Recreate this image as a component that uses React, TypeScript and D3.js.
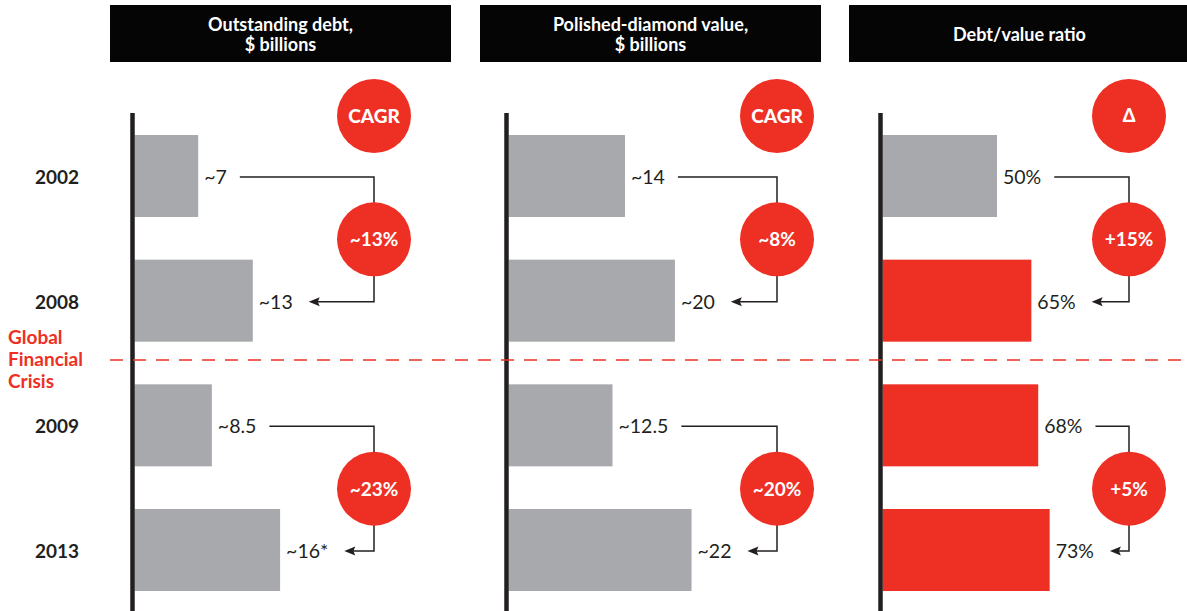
import React, { useEffect, useRef } from "react";
import * as d3 from "d3";

const years = ["2002", "2008", "2009", "2013"];
const debtValues = [7, 13, 8.5, 16];
const debtLabels = ["~7", "~13", "~8.5", "~16*"];
const diamondValues = [14, 20, 12.5, 22];
const diamondLabels = ["~14", "~20", "~12.5", "~22"];
const ratioValues = [50, 65, 68, 73];
const ratioLabels = ["50%", "65%", "68%", "73%"];
const debtGrowth = ["~13%", "~23%"];
const diamondGrowth = ["~8%", "~20%"];
const ratioGrowth = ["+15%", "+5%"];
const ratioHighlight = [false, true, true, true];
const panelTitles = [["Outstanding debt,", "$ billions"], ["Polished-diamond value,", "$ billions"], ["Debt/value ratio"]];
const badgeLabels = ["CAGR", "CAGR", "Δ"];
const crisisLabel = ["Global", "Financial", "Crisis"];

const W = 1187;
const H = 611;
const RED = "#ee2f24";
const GRAY = "#a7a9ac";
const DARK = "#231f20";
const FONT = "Lato, 'Open Sans', sans-serif";

export default function App() {
  const ref = useRef<SVGSVGElement | null>(null);

  useEffect(() => {
    document.body.style.margin = "0";
    const svg = d3.select(ref.current);
    svg.selectAll("*").remove();

    const y = d3.scalePoint<string>().domain(years).range([176, 550]);
    const barH = 82;

    const panels = [
      { values: debtValues, labels: debtLabels, growth: debtGrowth, boxX: 110, boxW: 341, axisX: 132.5, circleX: 374, k: 9.1, colors: years.map(() => GRAY) },
      { values: diamondValues, labels: diamondLabels, growth: diamondGrowth, boxX: 480, boxW: 341, axisX: 506.5, circleX: 777, k: 8.32, colors: years.map(() => GRAY) },
      { values: ratioValues, labels: ratioLabels, growth: ratioGrowth, boxX: 849, boxW: 341, axisX: 880.5, circleX: 1129, k: 2.29, colors: ratioHighlight.map((h) => (h ? RED : GRAY)) },
    ];

    // year labels
    svg.append("g").selectAll("text").data(years).join("text")
      .attr("x", 57).attr("y", (d) => (y(d) as number) + 8)
      .attr("text-anchor", "middle")
      .attr("font-family", FONT).attr("font-weight", 700).attr("font-size", 19)
      .attr("fill", DARK).text((d) => d);

    // crisis label
    svg.append("g").selectAll("text").data(crisisLabel).join("text")
      .attr("x", 8).attr("y", (_d, i) => 344 + i * 22)
      .attr("font-family", FONT).attr("font-weight", 700).attr("font-size", 19)
      .attr("fill", RED).text((d) => d);

    const defs = svg.append("defs");
    defs.append("clipPath").attr("id", "clipAll").append("rect").attr("width", W).attr("height", H);

    panels.forEach((p, pi) => {
      const g = svg.append("g").attr("clip-path", "url(#clipAll)");
      const x = d3.scaleLinear().domain([0, 1]).range([0, p.k]);
      const x0 = p.axisX + 2;

      // header
      g.append("rect").attr("x", p.boxX).attr("y", 5).attr("width", p.boxW).attr("height", 57).attr("fill", "#050505");
      const lines = panelTitles[pi];
      const cx = p.boxX + p.boxW / 2;
      lines.forEach((t, li) => {
        g.append("text")
          .attr("x", cx)
          .attr("y", lines.length === 1 ? 41 : 31 + li * 20)
          .attr("text-anchor", "middle")
          .attr("font-family", FONT).attr("font-weight", 700).attr("font-size", 18)
          .attr("fill", "#fff").text(t);
      });

      // bars
      g.selectAll("rect.bar").data(years).join("rect").attr("class", "bar")
        .attr("x", x0).attr("y", (d) => (y(d) as number) - barH / 2)
        .attr("width", (_d, i) => x(p.values[i]))
        .attr("height", barH)
        .attr("fill", (_d, i) => p.colors[i]);

      // axis line
      g.append("line").attr("x1", p.axisX).attr("x2", p.axisX).attr("y1", 113).attr("y2", H)
        .attr("stroke", DARK).attr("stroke-width", 4.5);

      // value labels
      const labelEnds: number[] = [];
      years.forEach((d, i) => {
        const t = g.append("text")
          .attr("x", x0 + x(p.values[i]) + 6)
          .attr("y", (y(d) as number) + 8)
          .attr("font-family", FONT).attr("font-weight", 400).attr("font-size", 19.5)
          .attr("fill", DARK).text(p.labels[i]);
        const node = t.node() as SVGTextElement;
        const len = node.getComputedTextLength();
        labelEnds.push(x0 + x(p.values[i]) + 6 + len);
      });

      // connectors + growth circles
      const r = 37;
      [0, 1].forEach((k) => {
        const a = years[k * 2];
        const b = years[k * 2 + 1];
        const ya = (y(a) as number) + 1;
        const yb = (y(b) as number) + 1;
        const cy = (ya + yb) / 2;
        const startX = labelEnds[k * 2] + 13;
        const tipX = labelEnds[k * 2 + 1] + 16;
        g.append("path")
          .attr("d", `M${startX},${ya} H${p.circleX} V${cy}`)
          .attr("fill", "none").attr("stroke", DARK).attr("stroke-width", 1.5);
        g.append("path")
          .attr("d", `M${p.circleX},${cy} V${yb} H${tipX + 6}`)
          .attr("fill", "none").attr("stroke", DARK).attr("stroke-width", 1.5);
        g.append("path")
          .attr("d", `M${tipX},${yb} L${tipX + 11},${yb - 4.5} L${tipX + 9},${yb} L${tipX + 11},${yb + 4.5} Z`)
          .attr("fill", DARK);
        g.append("circle").attr("cx", p.circleX).attr("cy", cy).attr("r", r).attr("fill", RED);
        g.append("text").attr("x", p.circleX).attr("y", cy + 7)
          .attr("text-anchor", "middle")
          .attr("font-family", FONT).attr("font-weight", 700).attr("font-size", 19)
          .attr("fill", "#fff").text(p.growth[k]);
      });

      // badge
      g.append("circle").attr("cx", p.circleX).attr("cy", 116).attr("r", r).attr("fill", RED);
      g.append("text").attr("x", p.circleX).attr("y", pi === 2 ? 122 : 123)
        .attr("text-anchor", "middle")
        .attr("font-family", FONT).attr("font-weight", 900).attr("font-size", pi === 2 ? 18 : 19)
        .attr("fill", "#fff").text(badgeLabels[pi]);
    });

    // crisis dashed line
    svg.append("line").attr("x1", 110).attr("x2", W).attr("y1", 360).attr("y2", 360)
      .attr("stroke", RED).attr("stroke-width", 1.3).attr("stroke-dasharray", "13 10");
  }, []);

  return (
    <svg
      ref={ref}
      width={W}
      height={H}
      style={{ position: "absolute", left: 0, top: 0, background: "#fff" }}
    />
  );
}
